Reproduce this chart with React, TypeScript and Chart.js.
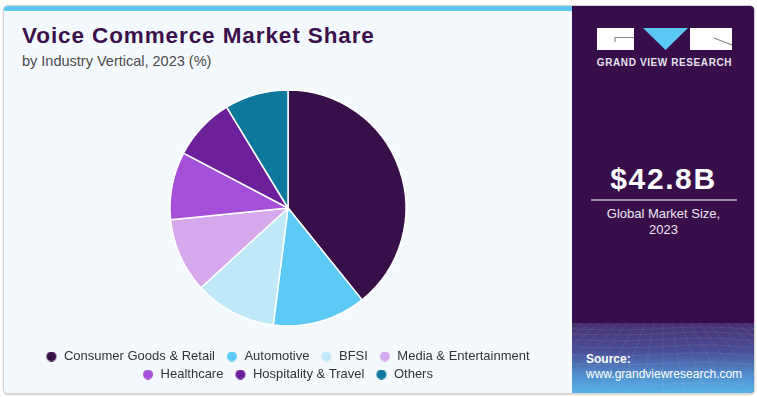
import React, { useEffect, useRef } from "react";
import { Chart, registerables } from "chart.js";

Chart.register(...registerables);

// ---- data ----
const categories = [
  "Consumer Goods & Retail",
  "Automotive",
  "BFSI",
  "Media & Entertainment",
  "Healthcare",
  "Hospitality & Travel",
  "Others",
];
const shares = [39.2, 12.8, 11.2, 10.2, 9.3, 8.6, 8.7];
const colors = ["#37104a", "#5ccaf5", "#bfe9f9", "#d6a9ec", "#a550d8", "#6c1f99", "#0d779c"];

const titleText = "Voice Commerce Market Share";
const subtitleText = "by Industry Vertical, 2023 (%)";
const marketSize = "$42.8B";
const marketLabel = ["Global Market Size,", "2023"];
const sourceLabel = "Source:";
const sourceUrl = "www.grandviewresearch.com";
const brand = "GRAND VIEW RESEARCH";

const FONT = '"Liberation Sans", Arial, Helvetica, sans-serif';

function makeDot(color: string): HTMLCanvasElement {
  const c = document.createElement("canvas");
  c.width = 18;
  c.height = 10;
  const ctx = c.getContext("2d")!;
  ctx.fillStyle = color;
  ctx.beginPath();
  ctx.arc(12, 5, 5, 0, Math.PI * 2);
  ctx.fill();
  return c;
}

const legendShift = {
  id: "legendShift",
  afterLayout(chart: any) {
    if (chart.legend) {
      chart.legend.left -= 3.5;
      chart.legend.right -= 3.5;
    }
  },
};

function Mesh() {
  const hs = [6, 11, 17, 24, 32, 41, 51, 62];
  const vs: number[] = [];
  for (let i = -12; i <= 12; i++) vs.push(i);
  return (
    <svg width={183} height={72} style={{ position: "absolute", left: 0, top: 0 }}>
      {hs.map((y, i) => (
        <path
          key={"h" + i}
          d={`M0 ${y} Q 60 ${y + 2} 100 ${y - 1} T 183 ${y + 1}`}
          fill="none"
          stroke="#ffffff"
          strokeOpacity={0.1}
          strokeWidth={0.8}
        />
      ))}
      {vs.map((v, i) => (
        <line key={"v" + i} x1={91 + v * 9} y1={0} x2={91 + v * 22} y2={72} stroke="#ffffff" strokeOpacity={0.1} strokeWidth={0.8} />
      ))}
    </svg>
  );
}

export default function App() {
  const ref = useRef<HTMLCanvasElement>(null);

  useEffect(() => {
    const dots = colors.map(makeDot);
    const chart = new Chart(ref.current!, {
      type: "pie",
      data: {
        labels: categories,
        datasets: [
          {
            data: shares,
            backgroundColor: colors,
            borderColor: "#ffffff",
            borderWidth: 1.5,
            radius: 118,
          } as any,
        ],
      },
      options: {
        responsive: false,
        animation: false,
        layout: { padding: 0 },
        plugins: {
          legend: {
            position: "bottom",
            labels: {
              usePointStyle: true,
              pointStyleWidth: 18,
              padding: 5,
              color: "#333333",
              font: { family: FONT, size: 13 },
              generateLabels: () =>
                categories.map((t, i) => ({
                  text: t,
                  fillStyle: colors[i],
                  strokeStyle: colors[i],
                  lineWidth: 0,
                  pointStyle: dots[i] as any,
                  hidden: false,
                  index: i,
                  fontColor: "#333333",
                })),
            },
          },
          tooltip: { enabled: false },
        },
      },
      plugins: [legendShift],
    });
    return () => chart.destroy();
  }, []);

  return (
    <div style={{ position: "absolute", left: 0, top: 0, width: 757, height: 397, background: "#ffffff", fontFamily: FONT, overflow: "hidden" }}>
      {/* card */}
      <div
        style={{
          position: "absolute",
          left: 3,
          top: 5,
          width: 750,
          height: 387,
          border: "1px solid #d2d2d2",
          borderRadius: 5,
          overflow: "hidden",
          background: "#f4f9fd",
          boxShadow: "0 1px 2px rgba(0,0,0,0.18)",
        }}
      >
        {/* top stripe */}
        <div style={{ position: "absolute", left: 0, top: 0, width: 569, height: 5, background: "#5ec8f2" }} />
        {/* right panel */}
        <div style={{ position: "absolute", left: 568, top: 0, width: 184, height: 389, background: "#380e4a" }}>
          <div
            style={{
              position: "absolute",
              left: 0,
              top: 317,
              width: 184,
              height: 72,
              background: "linear-gradient(180deg, #45306e 0%, #4a4f99 40%, #5093d0 75%, #5cb6ea 100%)",
            }}
          >
            <Mesh />
          </div>
        </div>
      </div>

      {/* logo */}
      <svg width={757} height={80} style={{ position: "absolute", left: 0, top: 0 }}>
        <rect x={597} y={28} width={37} height={22} fill="#ffffff" />
        <polyline points="615,42 615,37.5 634,37.5" fill="none" stroke="#8a8492" strokeWidth={1.2} />
        <polygon points="643,28 688,28 665.5,50" fill="#5bc8f5" />
        <rect x={690} y={28} width={42} height={22} fill="#ffffff" />
        <line x1={714} y1={38} x2={732} y2={45} stroke="#8a8492" strokeWidth={1.2} />
      </svg>
      <div
        style={{
          position: "absolute",
          left: 572,
          top: 58,
          width: 185,
          textAlign: "center",
          fontSize: 10,
          lineHeight: "10px",
          fontWeight: "bold",
          letterSpacing: 0.6,
          color: "#e6e1ec",
          whiteSpace: "nowrap",
        }}
      >
        {brand}
      </div>

      {/* title */}
      <div style={{ position: "absolute", left: 22, top: 25.3, fontSize: 22.5, lineHeight: "22.5px", fontWeight: "bold", letterSpacing: 0.9, color: "#3a0f4b", whiteSpace: "nowrap" }}>
        {titleText}
      </div>
      <div style={{ position: "absolute", left: 22, top: 53.7, fontSize: 14.5, lineHeight: "14.5px", color: "#4a4a4a", whiteSpace: "nowrap" }}>
        {subtitleText}
      </div>

      {/* market size */}
      <div
        style={{
          position: "absolute",
          left: 572,
          top: 163.6,
          width: 183,
          textAlign: "center",
          fontSize: 30,
          lineHeight: "30px",
          fontWeight: "bold",
          letterSpacing: 1.6,
          color: "#ffffff",
          whiteSpace: "nowrap",
        }}
      >
        {marketSize}
      </div>
      <div style={{ position: "absolute", left: 591, top: 199, width: 146, height: 2, background: "#9c8caa" }} />
      <div
        style={{
          position: "absolute",
          left: 572,
          top: 205.5,
          width: 183,
          textAlign: "center",
          fontSize: 13,
          lineHeight: "16px",
          color: "#ece8f0",
        }}
      >
        {marketLabel.map((l, i) => (
          <div key={i}>{l}</div>
        ))}
      </div>

      {/* source */}
      <div style={{ position: "absolute", left: 586, top: 351.8, fontSize: 12, lineHeight: "15px", color: "#ffffff", whiteSpace: "nowrap" }}>
        <div style={{ fontWeight: "bold" }}>{sourceLabel}</div>
        <div>{sourceUrl}</div>
      </div>

      {/* chart */}
      <canvas ref={ref} width={568} height={320} style={{ position: "absolute", left: 4, top: 71, width: 568, height: 320 }} />
    </div>
  );
}
